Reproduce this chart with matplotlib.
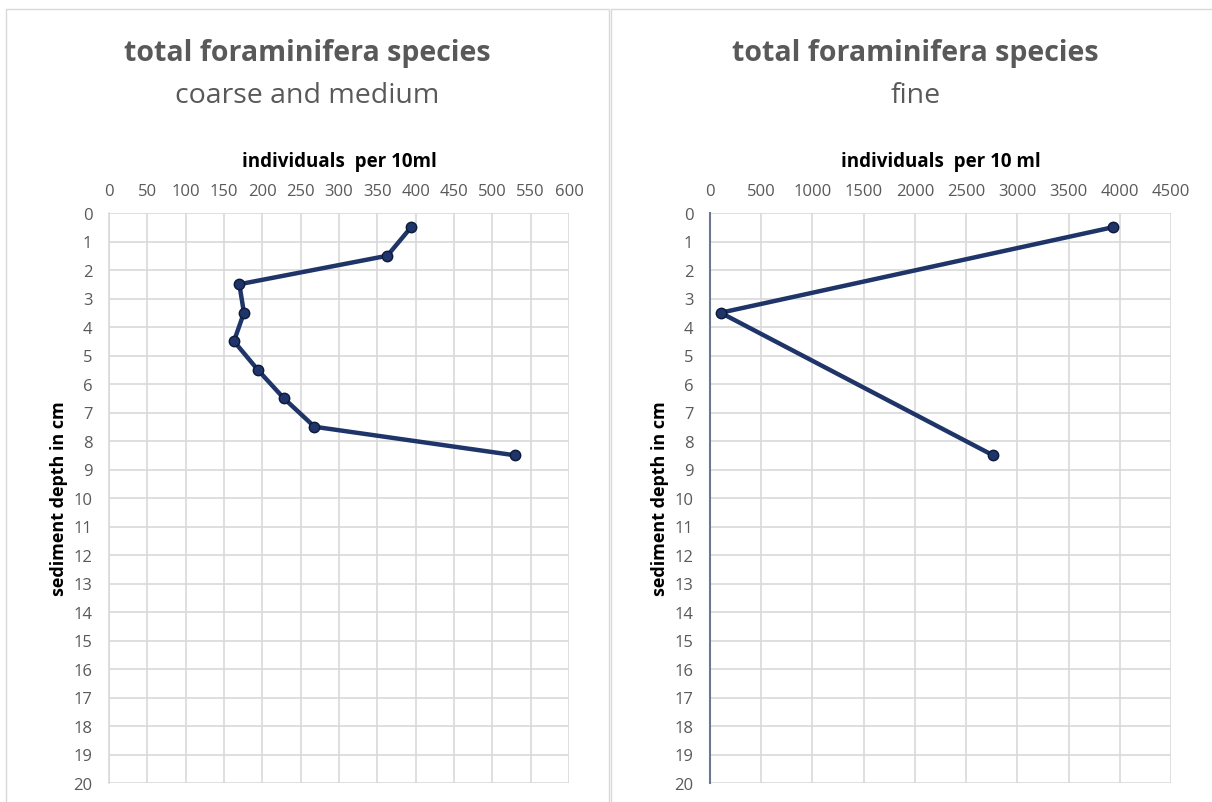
import matplotlib
matplotlib.use("Agg")
from matplotlib import pyplot as plt
from matplotlib.patches import Rectangle

# depth (cm) and counts
depth_coarse = [0.5, 1.5, 2.5, 3.5, 4.5, 5.5, 6.5, 7.5, 8.5]
count_coarse = [394, 363, 170, 176, 163, 194, 228, 268, 529]

depth_fine = [0.5, 3.5, 8.5]
count_fine = [3932, 104, 2762]

depth_ticks = list(range(0, 21))
coarse_ticks = list(range(0, 601, 50))
fine_ticks = list(range(0, 4501, 500))

LINE_COLOR = "#1F3468"
TEXT_GRAY = "#595959"
GRID_GRAY = "#D9D9D9"

plt.rcParams['font.family'] = ['Open Sans', 'DejaVu Sans']

W, H = 1212, 803
fig = plt.figure(figsize=(W / 100, H / 100), dpi=100)


def fx(px):
    return px / W


def fy(py):
    return 1 - py / H


def draw_panel(left, right, ax_left, ax_right, subtitle, xlabel, xs, ys, xticks, dark_spine):
    # light border round each chart panel
    fig.patches.append(Rectangle((fx(left), fy(H + 5)), fx(right - left), fy(10) - fy(H + 5),
                                 transform=fig.transFigure, fill=False,
                                 edgecolor="#D9D9D9", linewidth=1.0))
    cx = fx((left + right) / 2)
    fig.text(cx, fy(53), "total foraminifera species", ha="center", va="center",
             fontsize=20.5, fontweight="bold", color=TEXT_GRAY)
    fig.text(cx, fy(96), subtitle, ha="center", va="center",
             fontsize=20.5, color=TEXT_GRAY)

    top, bottom = 214, 784
    ax = fig.add_axes([fx(ax_left), fy(bottom), fx(ax_right - ax_left), fy(top) - fy(bottom)])
    ax.plot(xs, ys, color=LINE_COLOR, linewidth=3.2, marker="o", markersize=7.5,
            markerfacecolor=LINE_COLOR, markeredgecolor="#0B1A3A", zorder=3)
    ax.set_xlim(xticks[0], xticks[-1])
    ax.set_ylim(20, 0)
    ax.set_xticks(xticks)
    ax.set_yticks(depth_ticks)
    ax.xaxis.tick_top()
    ax.xaxis.set_label_position("top")
    ax.tick_params(axis="both", length=0, labelsize=12, colors=TEXT_GRAY)
    ax.tick_params(axis="x", pad=10)
    ax.tick_params(axis="y", pad=12)
    ax.grid(True, color=GRID_GRAY, linewidth=1.2)
    ax.set_axisbelow(True)
    for side in ("top", "right", "bottom"):
        ax.spines[side].set_visible(False)
    if dark_spine:
        ax.spines["left"].set_color("#6B7890")
        ax.spines["left"].set_linewidth(1.5)
    else:
        ax.spines["left"].set_color(GRID_GRAY)
        ax.spines["left"].set_linewidth(1.2)
    ax.set_xlabel(xlabel, fontsize=13.5, fontweight="bold", color="black", labelpad=12)
    ax.set_ylabel("sediment depth in cm", fontsize=13, fontweight="bold", color="black",
                  labelpad=4)
    return ax


draw_panel(6, 609, 109, 569, "coarse and medium", "individuals  per 10ml",
           count_coarse, depth_coarse, coarse_ticks, False)
draw_panel(611, 1220, 710, 1171, "fine", "individuals  per 10 ml",
           count_fine, depth_fine, fine_ticks, True)

fig.savefig("out.png", dpi=100)
